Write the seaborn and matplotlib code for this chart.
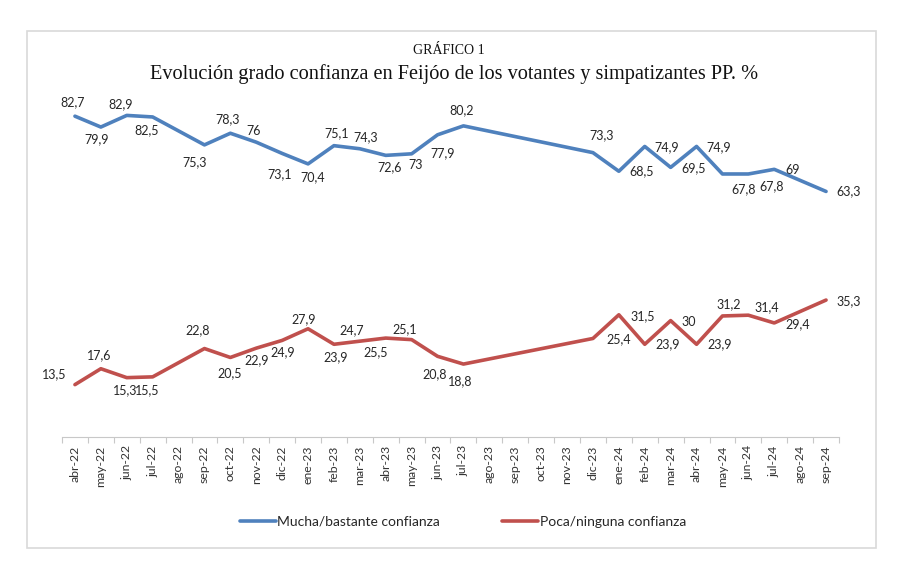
import matplotlib
import matplotlib.pyplot as plt
import numpy as np
import pandas as pd
import seaborn as sns
from matplotlib.lines import Line2D
from matplotlib.patches import Rectangle

matplotlib.use("agg")

# Data
months = [
    "abr-22", "may-22", "jun-22", "jul-22", "ago-22", "sep-22", "oct-22",
    "nov-22", "dic-22", "ene-23", "feb-23", "mar-23", "abr-23", "may-23",
    "jun-23", "jul-23", "ago-23", "sep-23", "oct-23", "nov-23", "dic-23",
    "ene-24", "feb-24", "mar-24", "abr-24", "may-24", "jun-24", "jul-24",
    "ago-24", "sep-24",
]
mucha = [
    82.7, 79.9, 82.9, 82.5, None, 75.3, 78.3, 76, 73.1, 70.4, 75.1, 74.3,
    72.6, 73, 77.9, 80.2, None, None, None, None, 73.3, 68.5, 74.9, 69.5,
    74.9, 67.8, 67.8, 69, None, 63.3,
]
poca = [
    13.5, 17.6, 15.3, 15.5, None, 22.8, 20.5, 22.9, 24.9, 27.9, 23.9, 24.7,
    25.5, 25.1, 20.8, 18.8, None, None, None, None, 25.4, 31.5, 23.9, 30,
    23.9, 31.2, 31.4, 29.4, None, 35.3,
]
series_names = ["Mucha/bastante confianza", "Poca/ninguna confianza"]
colors = ["#4F81BD", "#C0504D"]

# label offsets in pixels (dx, dy downward), one per plotted point
mucha_offsets = [
    (-2, -14), (-4, 12), (-6, -11), (-6, 13), (-10, 17), (-3, -14), (-3, -11),
    (-3, 21), (5, 13), (3, -13), (6, -12), (4, 12), (4, 11), (5, 18),
    (-2, -16), (9, -17), (23, 0), (22, 1), (23, 1), (22, 1), (21, 15),
    (23, 12), (18, 1), (23, 0),
]
poca_offsets = [
    (-21, -10), (-2, -14), (-2, 13), (-5, 13), (-7, -18), (-1, 16), (0, 12),
    (1, 12), (-4, -10), (2, 13), (-8, -11), (-10, 14), (-7, -10), (-3, 18),
    (-3, 17), (26, 1), (24, 1), (23, 0), (18, 1), (23, 0), (6, -12),
    (18, -8), (23, 1), (23, 1),
]

sns.set_theme(style="white")
plt.rcParams["font.family"] = ["Lato", "DejaVu Sans"]

frames = []
for name, vals in zip(series_names, [mucha, poca]):
    frames.append(pd.DataFrame({"pos": np.arange(len(months)), "valor": vals, "serie": name}))
df = pd.concat(frames).dropna()

fig = plt.figure(figsize=(9.04, 5.79), dpi=100)
fig.patches.append(
    Rectangle((27 / 904, 1 - 548 / 579), 849 / 904, 517 / 579,
              transform=fig.transFigure, fill=False, edgecolor="#d9d9d9", linewidth=1.2)
)
ax = fig.add_axes([62 / 904, 142 / 579, 777 / 904, 0.603])

sns.lineplot(data=df, x="pos", y="valor", hue="serie", palette=colors,
             linewidth=2.6, ax=ax, legend=False, sort=True)

for name, offsets in zip(series_names, [mucha_offsets, poca_offsets]):
    sub = df[df["serie"] == name]
    for (x, y), (dx, dy) in zip(zip(sub["pos"], sub["valor"]), offsets):
        ax.annotate(f"{y:g}".replace(".", ","), xy=(x, y), xytext=(dx, -dy),
                    textcoords="offset pixels", ha="center", va="center",
                    fontsize=9, color="#262626")

ax.set_xlim(-0.5, len(months) - 0.5)
ax.set_ylim(0, 90)
ax.set_xticks(np.arange(len(months)))
ax.set_xticklabels(months, rotation=90, fontsize=8.8, color="#333333")
ax.set_xticks(np.arange(len(months) + 1) - 0.5, minor=True)
ax.tick_params(axis="x", which="major", length=0, pad=6)
ax.tick_params(axis="x", which="minor", length=4, color="#c8c8c8", width=0.8, direction="out", bottom=True)
ax.set_yticks([])
ax.set_xlabel("")
ax.set_ylabel("")
for side in ["left", "top", "right"]:
    ax.spines[side].set_visible(False)
ax.spines["bottom"].set_color("#c8c8c8")
ax.spines["bottom"].set_linewidth(0.8)

fig.text(0.497, 1 - 50 / 579, "GRÁFICO 1", ha="center", va="center",
         fontsize=10, family=["Liberation Serif"], color="#111111")
fig.text(0.502, 1 - 74 / 579, "Evolución grado confianza en Feijóo de los votantes y simpatizantes PP. %",
         ha="center", va="center", fontsize=14.6, family=["Liberation Serif"], color="#111111")

handles = [Line2D([], [], color=c, linewidth=2.6) for c in colors]
fig.legend(handles, series_names, loc="center", bbox_to_anchor=(0.512, 1 - 522 / 579),
           ncol=2, frameon=False, fontsize=10, handlelength=2.6, handletextpad=0.1,
           columnspacing=4.5)

fig.savefig("out.png", dpi=100)
